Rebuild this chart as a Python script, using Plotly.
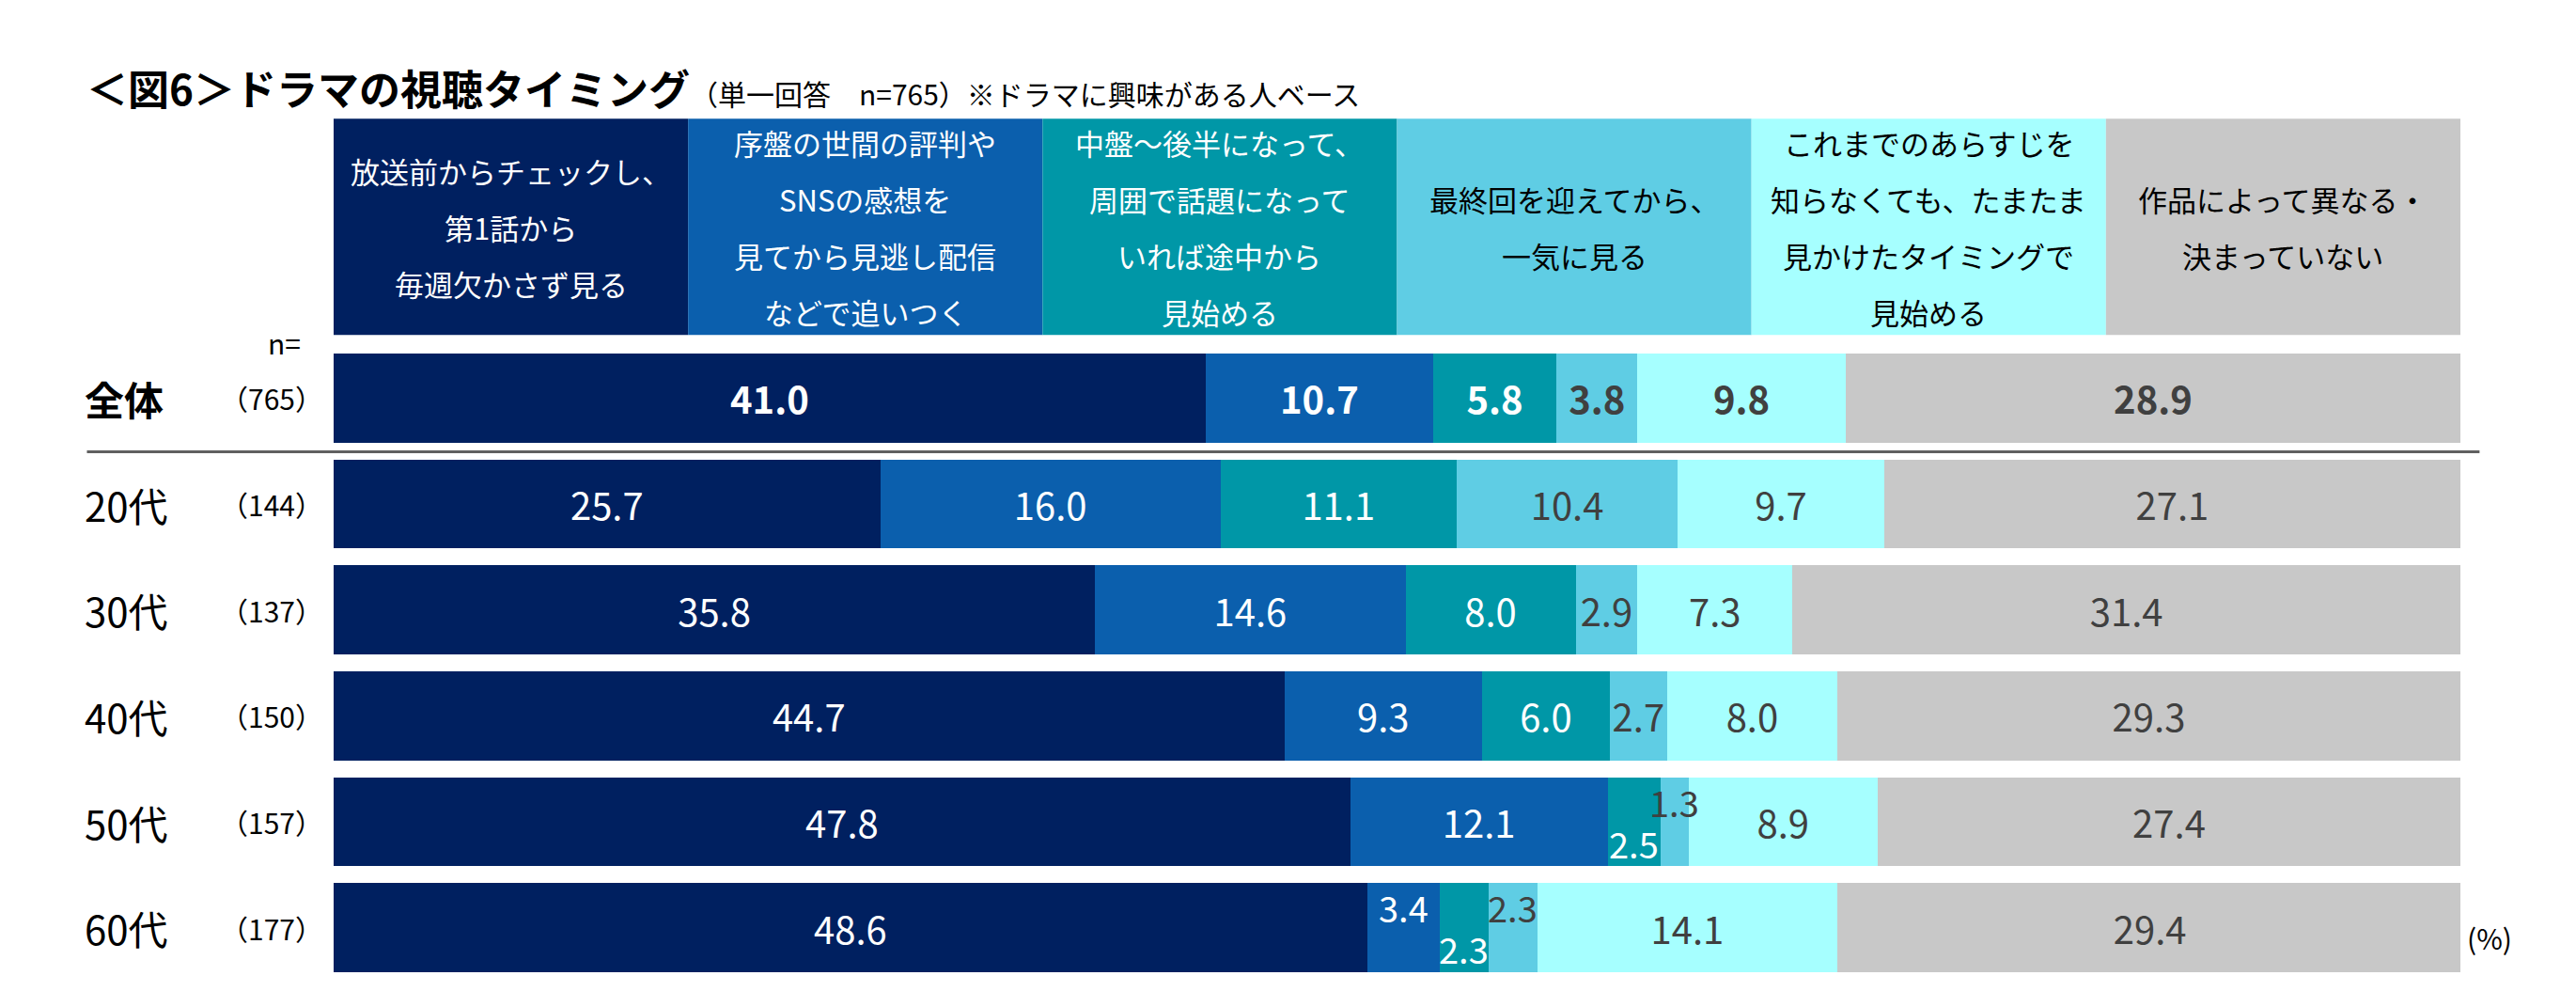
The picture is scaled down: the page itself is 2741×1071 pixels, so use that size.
import plotly.graph_objects as go

rows = ["全体", "20代", "30代", "40代", "50代", "60代"]
ns = ["765", "144", "137", "150", "157", "177"]
series = [
    ["放送前からチェックし、", "第1話から", "毎週欠かさず見る"],
    ["序盤の世間の評判や", "SNSの感想を", "見てから見逃し配信", "などで追いつく"],
    ["中盤～後半になって、", "周囲で話題になって", "いれば途中から", "見始める"],
    ["最終回を迎えてから、", "一気に見る"],
    ["これまでのあらすじを", "知らなくても、たまたま", "見かけたタイミングで", "見始める"],
    ["作品によって異なる・", "決まっていない"],
]
values = [
    [41.0, 25.7, 35.8, 44.7, 47.8, 48.6],
    [10.7, 16.0, 14.6, 9.3, 12.1, 3.4],
    [5.8, 11.1, 8.0, 6.0, 2.5, 2.3],
    [3.8, 10.4, 2.9, 2.7, 1.3, 2.3],
    [9.8, 9.7, 7.3, 8.0, 8.9, 14.1],
    [28.9, 27.1, 31.4, 29.3, 27.4, 29.4],
]
colors = ["#002060", "#0B5FAD", "#0097A7", "#5FCDE4", "#A6FFFF", "#C8C8C8"]
textcol = ["white", "white", "white", "#404040", "#404040", "#404040"]
headcol = ["white", "white", "white", "black", "black", "black"]
# labels moved above/below the bar: (series index, row index) -> yshift
shifted = {(2, 4): -22, (3, 4): 22, (1, 5): 22, (2, 5): -22, (3, 5): 22}

FONT = "Noto Sans CJK JP"
fig = go.Figure()
ypos = list(range(len(rows)))
for i, s in enumerate(series):
    txt = []
    for j, v in enumerate(values[i]):
        if (i, j) in shifted:
            txt.append("")
        elif j == 0:
            txt.append("<b>%.1f</b>" % v)
        else:
            txt.append("%.1f" % v)
    fig.add_trace(go.Bar(
        y=ypos, x=values[i], orientation="h", name=s[0],
        marker=dict(color=colors[i], line=dict(width=0)),
        text=txt, textposition="inside", insidetextanchor="middle",
        textangle=0, constraintext="none",
        textfont=dict(color=textcol[i], size=40, family=FONT),
        showlegend=False, hoverinfo="skip",
    ))

ann = []
for (i, j), dy in shifted.items():
    left = sum(values[k][j] for k in range(i))
    ann.append(dict(x=left + values[i][j] / 2, y=j, xref="x", yref="y",
                    text="%.1f" % values[i][j], showarrow=False, yshift=dy,
                    font=dict(color=textcol[i], size=38, family=FONT)))

shapes = []
w = 100 / len(series)
pitch = 0.089
for i, s in enumerate(series):
    shapes.append(dict(type="rect", xref="x", yref="paper", x0=i * w, x1=(i + 1) * w,
                       y0=1.016, y1=1.356, fillcolor=colors[i], line=dict(width=0)))
    top = 1.186 + pitch * (len(s) - 1) / 2
    for k, line in enumerate(s):
        ann.append(dict(x=(i + 0.5) * w, y=top - k * pitch, xref="x", yref="paper",
                        yanchor="middle", text=line, showarrow=False,
                        font=dict(color=headcol[i], size=31, family=FONT)))
shapes.append(dict(type="line", xref="paper", yref="paper", x0=-0.116, x1=1.009,
                   y0=0.832, y1=0.832, line=dict(color="#606060", width=3)))

for j, r in enumerate(rows):
    ann.append(dict(x=-0.118, y=j, xref="paper", yref="y", xanchor="left",
                    text="<b>%s</b>" % r if j == 0 else r, showarrow=False,
                    font=dict(size=42, color="black", family=FONT)))
    ann.append(dict(x=-0.004, y=j, xref="paper", yref="y", xanchor="right",
                    text="（%s）" % ns[j], showarrow=False,
                    font=dict(size=30, color="black", family=FONT)))
ann.append(dict(x=-0.032, y=1.04, xref="paper", yref="paper", text="n=", showarrow=False,
                font=dict(size=30, color="black", family=FONT)))
ann.append(dict(x=1.002, y=5, xref="paper", yref="y", xanchor="left", text="(%)", showarrow=False,
                yshift=-10, font=dict(size=30, color="black", family=FONT)))
ann.append(dict(x=-0.117, y=1.455, xref="paper", yref="paper", xanchor="left", showarrow=False,
                text="<b>＜図6＞ドラマの視聴タイミング</b><span style='font-size:30px'>（単一回答　n=765）※ドラマに興味がある人ベース</span>",
                font=dict(size=44, color="black", family=FONT)))

fig.update_layout(
    width=2741, height=1071, barmode="stack", bargap=0.16,
    margin=dict(l=347, r=131, t=359, b=36),
    plot_bgcolor="white", paper_bgcolor="white",
    xaxis=dict(range=[0, 100], visible=False),
    yaxis=dict(range=[5.5, -0.5], visible=False),
    shapes=shapes, annotations=ann, uniformtext=dict(mode=False),
)
fig.write_html("out.html")
